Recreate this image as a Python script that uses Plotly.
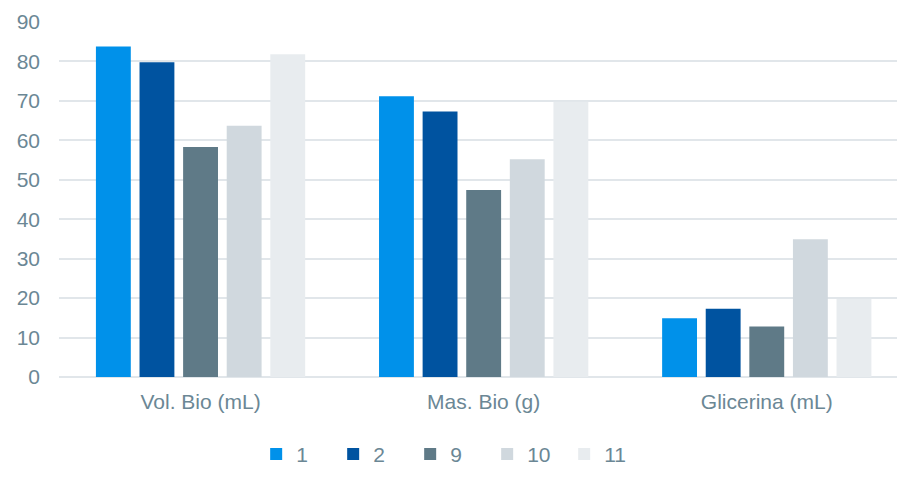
import plotly.graph_objects as go

categories = ["Vol. Bio (mL)", "Mas. Bio (g)", "Glicerina (mL)"]
series_names = ["1", "2", "9", "10", "11"]
s1 = [83.8, 71.2, 14.9]
s2 = [79.8, 67.3, 17.3]
s9 = [58.3, 47.4, 12.8]
s10 = [63.7, 55.2, 34.9]
s11 = [81.8, 69.8, 19.8]
y_ticks = [0, 10, 20, 30, 40, 50, 60, 70, 80, 90]

colors = ["#0091EA", "#0053A0", "#5F7A87", "#D0D8DE", "#E8ECEF"]
values = [s1, s2, s9, s10, s11]

text_color = "#6B8795"
font_family = "Liberation Sans, Arial, sans-serif"
fs = 21

fig = go.Figure()
for name, vals, col in zip(series_names, values, colors):
    fig.add_trace(go.Bar(
        x=categories, y=vals, name=name,
        marker=dict(color=col, line=dict(width=0)),
    ))

fig.update_layout(
    width=897, height=477,
    margin=dict(l=59, r=0, t=22, b=100, autoexpand=False),
    plot_bgcolor="white", paper_bgcolor="white",
    barmode="group", bargap=0.23, bargroupgap=0.2,
    font=dict(family=font_family, size=fs, color=text_color),
    showlegend=True,
    legend=dict(
        orientation="h", x=0.465, xanchor="center",
        y=-0.16, yanchor="top",
        font=dict(size=fs, color=text_color),
        itemwidth=30, entrywidth=32,
    ),
)
fig.update_xaxes(
    type="category", range=[-0.5, 2.46],
    showgrid=False, zeroline=False, showline=False,
    ticks="", ticklabelstandoff=10, tickangle=0,
    tickfont=dict(size=fs, color=text_color),
)
fig.update_yaxes(
    range=[0, 90], tickvals=y_ticks,
    showgrid=True, gridcolor="#E1E6EA", gridwidth=1.5,
    zeroline=True, zerolinecolor="#E1E6EA", zerolinewidth=1.5,
    showline=False, ticks="", ticklabelstandoff=18,
    tickfont=dict(size=fs, color=text_color),
)

fig.write_html("out.html")
